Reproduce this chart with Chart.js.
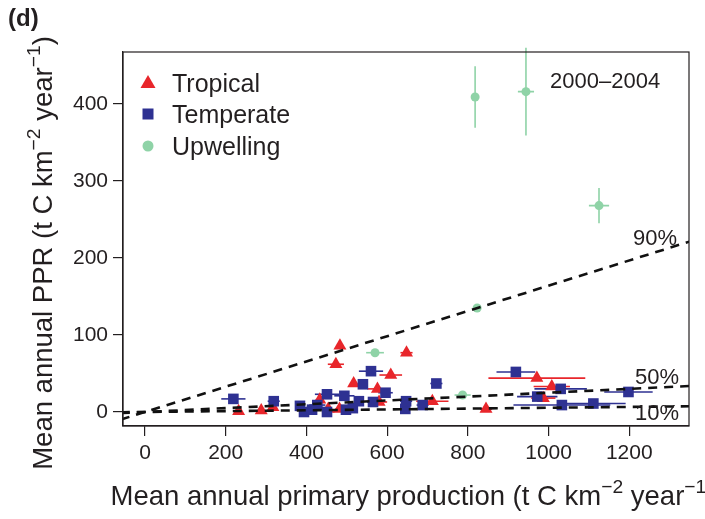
<!DOCTYPE html>
<html>
<head>
<meta charset="utf-8">
<script src="https://cdn.jsdelivr.net/npm/chart.js@4.4.1/dist/chart.umd.min.js"></script>
<style>
  html, body { margin: 0; padding: 0; background: #fff; }
  #wrap { width: 705px; height: 519px; }
</style>
</head>
<body>
<div id="wrap"><canvas id="ppr" width="705" height="519"></canvas></div>
<script>
// axis ranges and ticks
const xRange = [-54.5, 1348];
const yRange = [-18.2, 467.5];
const xTicks = [0, 200, 400, 600, 800, 1000, 1200];
const yTicks = [0, 100, 200, 300, 400];

// Tropical (x, y, horizontal error half-width)
const tropicalX    = [232, 288, 317, 433, 454, 482, 483, 473, 517, 576, 580, 609, 648, 712, 845, 971, 1008, 987];
const tropicalY    = [1, 2, 6, 16, 4, 4, 86, 62, 37, 30, 13, 48, 77, 14, 4, 44, 33, 18];
const tropicalXErr = [0, 0, 8, 10, 0, 10, 8, 20, 8, 25, 20, 28, 15, 40, 15, 120, 45, 30];

// Temperate
const temperateX    = [219, 319, 384, 394, 414, 427, 451, 451, 494, 498, 515, 530, 540, 560, 565, 596, 645, 647, 688, 722, 919, 972, 1030, 1033, 1111, 1198];
const temperateY    = [17, 14, 8, 0, 3, 9, 23, 0, 21, 3, 5, 14, 36, 53, 13, 25, 4, 14, 9, 37, 52, 20, 30, 9, 11, 26];
const temperateXErr = [30, 15, 12, 10, 10, 20, 30, 10, 25, 15, 10, 12, 10, 30, 15, 18, 12, 15, 15, 15, 48, 50, 65, 120, 80, 60];

// Upwelling
const upwellingX    = [570, 787, 823, 818, 944, 1125];
const upwellingY    = [77, 22, 135, 409, 416, 268];
const upwellingXErr = [22, 20, 8, 0, 20, 25];
const upwellingYErr = [0, 0, 5, 40, 57, 23];

// transfer efficiency lines (PPR = slope * PP)
const lineLabels = ['90%', '50%', '10%'];
const lineSlopes = [0.164, 0.025, 0.0055];

const RED = '#e8262b';
const BLUE = '#2e3192';
const GREEN = '#8fd3a7';
const INK = '#231f20';
const FONT = "'Liberation Sans', Arial, Helvetica, sans-serif";

function pts(xs, ys) {
  return xs.map((x, i) => ({x: x, y: ys[i]}));
}

function drawRich(ctx, parts, cx, cy, size) {
  // parts: [text, isSuperscript]
  let total = 0;
  parts.forEach(p => {
    ctx.font = (p[1] ? size * 0.7 : size) + 'px ' + FONT;
    total += ctx.measureText(p[0]).width;
  });
  let x = cx - total / 2;
  parts.forEach(p => {
    ctx.font = (p[1] ? size * 0.7 : size) + 'px ' + FONT;
    ctx.fillText(p[0], x, p[1] ? cy - size * 0.42 : cy);
    x += ctx.measureText(p[0]).width;
  });
}

const errorBars = {
  id: 'errorBars',
  beforeDatasetsDraw(chart) {
    const ctx = chart.ctx, xs = chart.scales.x, ys = chart.scales.y;
    const a = chart.chartArea;
    ctx.save();
    ctx.beginPath();
    ctx.rect(a.left, a.top - 6, a.right - a.left, a.bottom - a.top + 6);
    ctx.clip();
    chart.data.datasets.forEach(ds => {
      if (!ds.errX) return;
      ctx.strokeStyle = ds.backgroundColor;
      ctx.lineWidth = 1.6;
      ds.data.forEach((p, i) => {
        const px = xs.getPixelForValue(p.x), py = ys.getPixelForValue(p.y);
        const ex = ds.errX[i], ey = ds.errY ? ds.errY[i] : 0;
        ctx.beginPath();
        if (ex > 0) {
          ctx.moveTo(xs.getPixelForValue(p.x - ex), py);
          ctx.lineTo(xs.getPixelForValue(p.x + ex), py);
        }
        if (ey > 0) {
          ctx.moveTo(px, ys.getPixelForValue(p.y - ey));
          ctx.lineTo(px, ys.getPixelForValue(p.y + ey));
        }
        ctx.stroke();
      });
    });
    ctx.restore();
  }
};

const decorations = {
  id: 'decorations',
  afterDraw(chart) {
    const ctx = chart.ctx, a = chart.chartArea;
    ctx.save();
    // box
    ctx.strokeStyle = INK;
    ctx.lineWidth = 1.2;
    ctx.strokeRect(a.left, a.top, a.right - a.left, a.bottom - a.top);

    ctx.fillStyle = INK;
    ctx.textBaseline = 'alphabetic';
    ctx.textAlign = 'left';

    // panel tag
    ctx.font = 'bold 24px ' + FONT;
    ctx.fillText('(d)', 8, 26);

    // line labels
    ctx.font = '22px ' + FONT;
    ctx.fillText(lineLabels[0], 633, 245);
    ctx.fillText(lineLabels[1], 635, 384);
    ctx.fillText(lineLabels[2], 635, 420);
    ctx.fillText('2000\u20132004', 550, 88);

    // legend
    const lx = 148, rows = [83, 114, 146];
    ctx.fillStyle = RED;
    ctx.beginPath();
    ctx.moveTo(lx, rows[0] - 8);
    ctx.lineTo(lx + 7.5, rows[0] + 5);
    ctx.lineTo(lx - 7.5, rows[0] + 5);
    ctx.closePath();
    ctx.fill();
    ctx.fillStyle = BLUE;
    ctx.fillRect(lx - 5.5, rows[1] - 5.5, 11, 11);
    ctx.fillStyle = GREEN;
    ctx.beginPath();
    ctx.arc(lx, rows[2], 5.5, 0, Math.PI * 2);
    ctx.fill();
    ctx.fillStyle = INK;
    ctx.font = '25px ' + FONT;
    ['Tropical', 'Temperate', 'Upwelling'].forEach((t, i) => {
      ctx.fillText(t, 172, rows[i] + 9);
    });

    // axis titles
    const title = (s) => [[s + ' (t C km', 0], ['\u22122', 1], [' year', 0], ['\u22121', 1], [')', 0]];
    drawRich(ctx, title('Mean annual primary production'), 413, 505, 27.5);
    ctx.translate(52, 253);
    ctx.rotate(-Math.PI / 2);
    drawRich(ctx, title('Mean annual PPR'), 0, 0, 27.5);
    ctx.restore();
  }
};

const lineSets = lineSlopes.map((s, i) => ({
  type: 'line',
  label: lineLabels[i],
  data: [{x: -60, y: -60 * s}, {x: 1360, y: 1360 * s}],
  borderColor: '#111',
  borderWidth: 2.6,
  borderDash: [9, 7],
  pointRadius: 0,
  fill: false
}));

new Chart(document.getElementById('ppr').getContext('2d'), {
  type: 'scatter',
  data: {
    datasets: [
      ...lineSets,
      {
        label: 'Upwelling',
        data: pts(upwellingX, upwellingY),
        errX: upwellingXErr, errY: upwellingYErr,
        backgroundColor: GREEN, pointStyle: 'circle', pointRadius: 4.5, pointBorderWidth: 0
      },
      {
        label: 'Temperate',
        data: pts(temperateX, temperateY),
        errX: temperateXErr,
        backgroundColor: BLUE, pointStyle: 'rect', pointRadius: 7.5, pointBorderWidth: 0
      },
      {
        label: 'Tropical',
        data: pts(tropicalX, tropicalY),
        errX: tropicalXErr,
        backgroundColor: RED, pointStyle: 'triangle', pointRadius: 7.5, pointBorderWidth: 0
      }
    ]
  },
  options: {
    responsive: false,
    devicePixelRatio: 1,
    animation: false,
    events: [],
    layout: { padding: { top: 52, right: 16, left: 0, bottom: 0 } },
    plugins: { legend: { display: false }, tooltip: { enabled: false } },
    scales: {
      x: {
        type: 'linear',
        min: xRange[0], max: xRange[1],
        afterBuildTicks: s => { s.ticks = xTicks.map(v => ({value: v})); },
        afterFit: s => { s.height = 93; },
        grid: { drawOnChartArea: false, drawTicks: true, tickLength: 10, color: INK, lineWidth: 1.2 },
        border: { display: true, color: INK, width: 1.2 },
        ticks: { color: INK, font: { family: FONT, size: 21 }, padding: 5, maxRotation: 0, callback: v => String(v) }
      },
      y: {
        type: 'linear',
        min: yRange[0], max: yRange[1],
        afterBuildTicks: s => { s.ticks = yTicks.map(v => ({value: v})); },
        afterFit: s => { s.width = 123; },
        grid: { drawOnChartArea: false, drawTicks: true, tickLength: 10, color: INK, lineWidth: 1.2 },
        border: { display: true, color: INK, width: 1.2 },
        ticks: { color: INK, font: { family: FONT, size: 21 }, padding: 5, callback: v => String(v) }
      }
    }
  },
  plugins: [errorBars, decorations]
});
</script>
</body>
</html>
